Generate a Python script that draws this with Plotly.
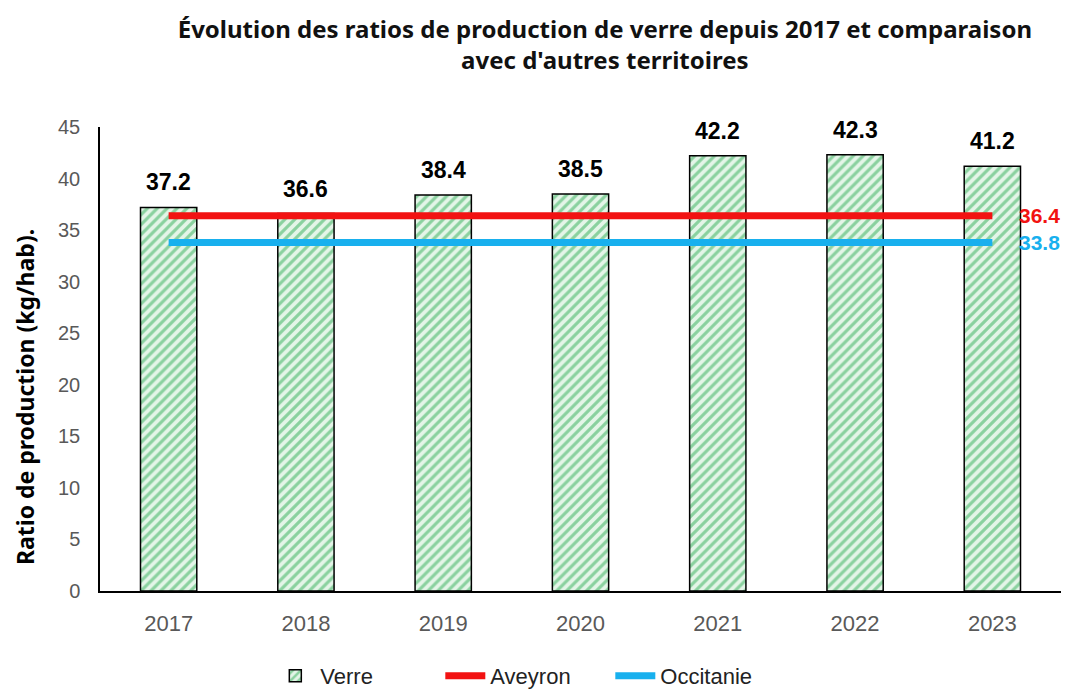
import plotly.graph_objects as go

years = ["2017", "2018", "2019", "2020", "2021", "2022", "2023"]
verre = [37.2, 36.6, 38.4, 38.5, 42.2, 42.3, 41.2]
aveyron = [36.4] * 7
occitanie = [33.8] * 7
y_ticks = [0, 5, 10, 15, 20, 25, 30, 35, 40, 45]

RED = "#f21212"
BLUE = "#18b0ee"
LAB_FONT = "Liberation Sans"

fig = go.Figure()

fig.add_trace(go.Bar(
    x=years, y=verre, name="Verre", width=0.41,
    marker=dict(color="#e4f5e8", line=dict(color="black", width=1.5),
                pattern=dict(shape="/", fgcolor="#2fae55", size=7, solidity=0.45)),
))
fig.add_trace(go.Scatter(x=years, y=aveyron, name="Aveyron", mode="lines",
                         line=dict(color=RED, width=7)))
fig.add_trace(go.Scatter(x=years, y=occitanie, name="Occitanie", mode="lines",
                         line=dict(color=BLUE, width=7)))

# bar value labels (x as category index: "2023" would otherwise be read as index 2023)
for i, v in enumerate(verre):
    fig.add_annotation(x=i, y=v, text=f"<b>{v:.1f}</b>", showarrow=False, yshift=25,
                       font=dict(family=LAB_FONT, size=23, color="black"))

# value labels at the end of the reference lines
last = len(years) - 1
for vals, col in [(aveyron, RED), (occitanie, BLUE)]:
    fig.add_annotation(x=last, y=vals[-1], text=f"<b>{vals[-1]:.1f}</b>", showarrow=False,
                       xanchor="left", xshift=25, font=dict(family=LAB_FONT, size=21, color=col))

# y title placed by hand (it sits lower than the plot centre in the original)
fig.add_annotation(xref="paper", yref="paper", x=-0.078, y=0.418, textangle=-90,
                   xanchor="center", yanchor="middle",
                   text="<b>Ratio de production (kg/hab).</b>", showarrow=False,
                   font=dict(family="Noto Sans", size=23, color="black"))

# page body has an 8px margin, so the figure is 8px smaller than the window
fig.update_layout(
    width=1062, height=681,
    paper_bgcolor="white", plot_bgcolor="white",
    margin=dict(l=92, r=9, t=119, b=98),
    title=dict(text="<b>Évolution des ratios de production de verre depuis 2017 et comparaison<br>avec d'autres territoires</b>",
               x=0.562, xanchor="center", y=0.956, yanchor="middle",
               font=dict(family="Noto Sans", size=24, color="#111")),
    showlegend=True,
    legend=dict(orientation="h", x=0.247, xanchor="left", xref="container",
                y=0.019, yanchor="middle", yref="container",
                entrywidth=115, entrywidthmode="pixels",
                font=dict(family=LAB_FONT, size=22, color="#222"), itemwidth=40),
    bargap=0.59,
)
fig.update_xaxes(type="category", range=[-0.5, last + 0.5], showline=True, linecolor="black",
                 linewidth=1.5, showgrid=False, automargin=False,
                 tickfont=dict(family=LAB_FONT, size=22, color="#595959"),
                 ticklabelstandoff=12)
fig.update_yaxes(range=[0, 45], tickvals=y_ticks, showline=True, linecolor="black", linewidth=1.5,
                 showgrid=False, zeroline=False, ticklabelstandoff=14, automargin=False,
                 tickfont=dict(family=LAB_FONT, size=20, color="#595959"))

fig.write_html("out.html")
